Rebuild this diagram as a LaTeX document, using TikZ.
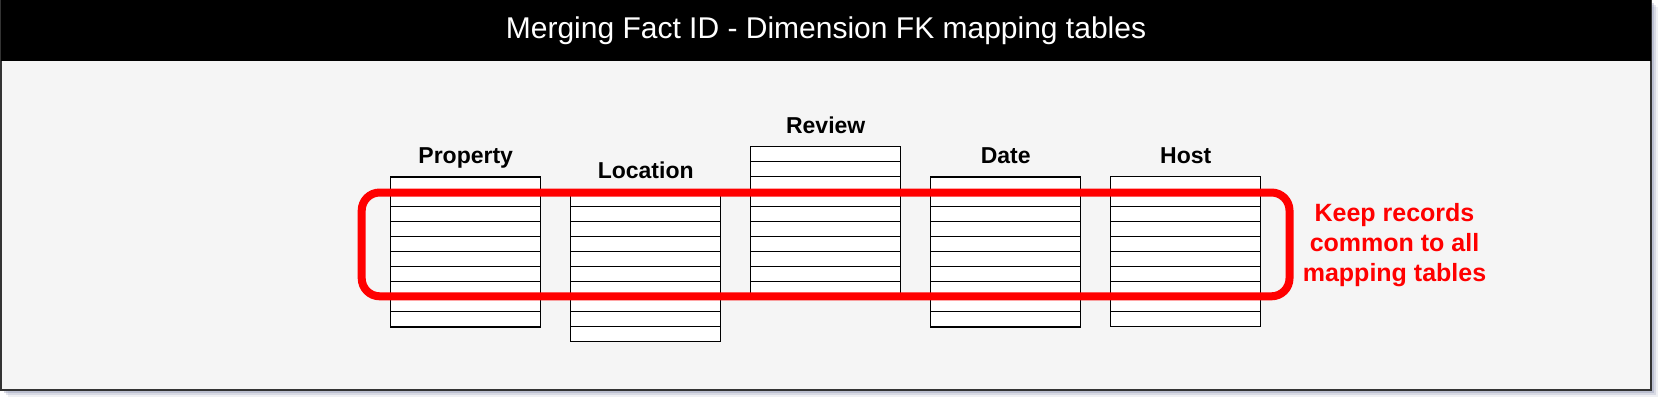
\documentclass[tikz,border=0pt]{standalone}
\usepackage{fontspec}
\setmainfont{Liberation Sans}
\usepackage{tikz}
\usetikzlibrary{positioning}
\definecolor{panelgray}{HTML}{F5F5F5}
\definecolor{panelline}{HTML}{333333}
\definecolor{shadowblue}{HTML}{7E84A6}
\definecolor{keepred}{HTML}{FF0000}
\begin{document}
\begin{tikzpicture}[x=0.5pt, y=-0.5pt,
		tablebox/.style={draw=black, line width=0.6pt, fill=white, inner sep=0pt,
			minimum width=75pt, minimum height=75pt},
		tablename/.style={font=\bfseries\fontsize{11.5}{13}\selectfont, inner sep=0pt, text depth=0pt},
		rowline/.style={draw=black, line width=0.6pt}]
	\useasboundingbox[fill=white] (0,0) rectangle (1668,408);
	\foreach \o/\op in {7/0.12, 5/0.2, 3/0.3}
		\fill[shadowblue, opacity=\op] (1+\o,\o) rectangle (1651+\o,390+\o);
	\draw[fill=panelgray, draw=panelline, line width=0.6pt] (1,0) rectangle (1651,390);
	\fill[black] (1,0) rectangle (1651,61);
	\node[text=white, font=\fontsize{15}{18}\selectfont] (title) at (826,30.5) {Merging Fact ID - Dimension FK mapping tables};

	\node[tablebox] (prop) at (465.7,252) {};
	\node[tablebox] (loc) at (645.7,266.7) {};
	\node[tablebox] (rev) at (825.7,221.7) {};
	\node[tablebox] (date) at (1005.7,252) {};
	\node[tablebox] (host) at (1185.7,251.7) {};
	\foreach \t in {prop,loc,rev,date,host}
		\foreach \i in {1,...,9}
			\draw[rowline] ([yshift=-\i*7.5pt]\t.north west) -- ([yshift=-\i*7.5pt]\t.north east);

	\node[tablename, above=6.3pt of prop] (proplabel) {Property};
	\node[tablename, above=6.3pt of loc] (loclabel) {Location};
	\node[tablename, above=6.3pt of rev] (revlabel) {Review};
	\node[tablename, above=6.3pt of date] (datelabel) {Date};
	\node[tablename, above=6.3pt of host] (hostlabel) {Host};

	\node[draw=keepred, line width=4pt, rounded corners=9pt, inner sep=0pt,
		minimum width=463.9pt, minimum height=51.9pt] (keep) at (825.6,244.4) {};
	\node[text=keepred, align=center, font=\bfseries\fontsize{12.5}{15}\selectfont] (note) at (1394.5,245) {Keep records\\common to all\\mapping tables};
\end{tikzpicture}
\end{document}
